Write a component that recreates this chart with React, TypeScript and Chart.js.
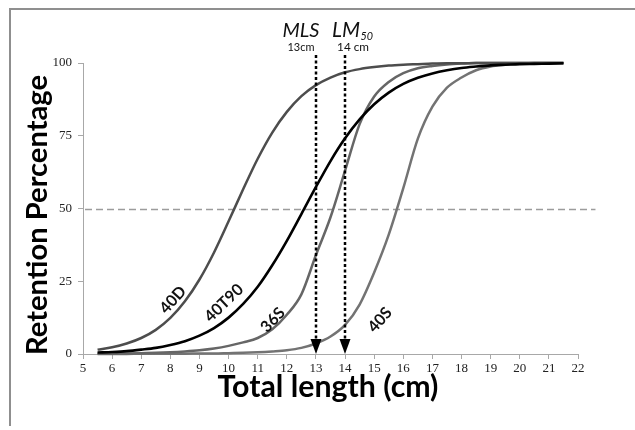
import { useEffect, useRef } from "react";
import { Chart, registerables } from "chart.js";

Chart.register(...registerables);

// Total length (cm) at which retention was read
const lengths = [5.5, 6, 6.5, 7, 7.5, 8, 8.5, 9, 9.5, 10, 10.5, 11, 11.5, 12, 12.5, 13, 13.5, 14, 14.5, 15, 15.5, 16, 16.5, 17, 17.5, 18, 18.5, 19, 19.5, 20, 20.5, 21, 21.5];

// Retention percentage per codend
const ret40D = [1.5, 2.3, 3.6, 5.5, 8.3, 12.4, 18.1, 25.6, 34.9, 45.6, 56.6, 67.1, 76.1, 83.2, 88.6, 92.4, 95.0, 96.8, 97.9, 98.6, 99.1, 99.4, 99.6, 99.8, 99.9, 99.9, 100, 100, 100, 100, 100, 100, 100];
const ret40T90 = [0.5, 0.7, 1.0, 1.5, 2.1, 3.1, 4.4, 6.3, 8.9, 12.5, 17.2, 23.1, 30.5, 38.9, 48.1, 57.4, 66.3, 74.1, 80.6, 85.8, 89.8, 92.8, 94.9, 96.4, 97.5, 98.3, 98.8, 99.2, 99.4, 99.6, 99.7, 99.8, 99.9];
const ret36S = [0.1, 0.1, 0.2, 0.3, 0.4, 0.6, 0.9, 1.3, 1.9, 2.8, 4.0, 5.5, 8.5, 13.5, 20.5, 34, 47, 63, 79, 88.5, 93.5, 96.5, 98.2, 99.0, 99.5, 99.8, 100, 100, 100, 100, 100, 100, 100];
const ret40S = [0, 0, 0, 0.1, 0.1, 0.1, 0.1, 0.2, 0.2, 0.3, 0.4, 0.6, 0.9, 1.3, 2.1, 3.6, 6, 10, 17, 28, 41, 57, 74, 85, 91.5, 95, 97.5, 98.8, 99.4, 99.8, 100, 100, 100];

const seriesNames = ["40T90", "40D", "36S", "40S"];
const seriesValues = [ret40T90, ret40D, ret36S, ret40S];
const seriesColors = ["#000000", "#4d4d4d", "#666666", "#737373"];

const xMin = 5;
const xMax = 22;
const yTicks = [0, 25, 50, 75, 100];

// reference markers
const refRetention = 50;
const refLineEnd = 22.6;
const mlsLength = 13;
const lm50Length = 14;

// curve label anchors (data coordinates) and rotation
const labelNames = ["40D", "40T90", "36S", "40S"];
const labelX = [8.09, 9.84, 11.52, 15.2];
const labelY = [18.6, 17.5, 11.7, 11.7];
const labelAngle = [-48, -44, -47, -48];

const SANS = "Lato, 'Open Sans', 'Liberation Sans', sans-serif";
const SERIF = "'Liberation Serif', 'Times New Roman', serif";

function fitFont(ctx: CanvasRenderingContext2D, text: string, prefix: string, target: number) {
  ctx.font = `${prefix} 20px ${SANS}`;
  const w = ctx.measureText(text).width || 1;
  const size = (20 * target) / w;
  ctx.font = `${prefix} ${size.toFixed(2)}px ${SANS}`;
  return size;
}

const annotationPlugin = {
  id: "annotations",
  beforeDraw(chart: any) {
    const { ctx, width } = chart;
    ctx.save();
    ctx.fillStyle = "#ffffff";
    ctx.fillRect(0, 0, width, chart.height);
    ctx.strokeStyle = "#8f8f8f";
    ctx.lineWidth = 2;
    ctx.beginPath();
    ctx.moveTo(10, 426);
    ctx.lineTo(10, 9);
    ctx.lineTo(width, 9);
    ctx.stroke();
    ctx.restore();
  },
  beforeDatasetsDraw(chart: any) {
    const { ctx, chartArea } = chart;
    const xs = chart.scales.x;
    const ys = chart.scales.y;
    const yy = Math.round(ys.getPixelForValue(refRetention)) + 0.5;
    ctx.save();
    ctx.strokeStyle = "#9c9c9c";
    ctx.lineWidth = 1.6;
    ctx.setLineDash([7, 4]);
    ctx.beginPath();
    ctx.moveTo(chartArea.left + 2, yy);
    ctx.lineTo(xs.getPixelForValue(refLineEnd), yy);
    ctx.stroke();
    ctx.restore();
  },
  afterDatasetsDraw(chart: any) {
    const { ctx } = chart;
    const xs = chart.scales.x;
    const ys = chart.scales.y;
    const bottom = ys.getPixelForValue(0);
    const top = ys.getPixelForValue(100) - 8;
    ctx.save();
    [mlsLength, lm50Length].forEach((v) => {
      const px = Math.round(xs.getPixelForValue(v));
      ctx.strokeStyle = "#000";
      ctx.lineWidth = 2.5;
      ctx.setLineDash([3, 2.5]);
      ctx.beginPath();
      ctx.moveTo(px, top);
      ctx.lineTo(px, bottom - 14);
      ctx.stroke();
      ctx.setLineDash([]);
      ctx.fillStyle = "#000";
      ctx.beginPath();
      ctx.moveTo(px - 5.5, bottom - 15);
      ctx.lineTo(px + 5.5, bottom - 15);
      ctx.lineTo(px, bottom);
      ctx.closePath();
      ctx.fill();
    });

    // marker captions
    const pMls = xs.getPixelForValue(mlsLength);
    const pLm = xs.getPixelForValue(lm50Length);
    ctx.fillStyle = "#111";
    ctx.textBaseline = "alphabetic";
    ctx.textAlign = "center";
    fitFont(ctx, "MLS", "italic", 37);
    ctx.fillText("MLS", pMls - 15, 37);
    fitFont(ctx, "13cm", "", 27);
    ctx.fillText("13cm", pMls - 15, 51);
    fitFont(ctx, "14 cm", "", 32);
    ctx.fillText("14 cm", pLm + 8, 51);
    ctx.textAlign = "left";
    fitFont(ctx, "LM", "italic", 28);
    ctx.fillText("LM", pLm - 13, 37);
    fitFont(ctx, "50", "italic", 12.5);
    ctx.fillText("50", pLm - 13 + 28.5, 40);

    // curve labels
    ctx.textAlign = "center";
    ctx.textBaseline = "middle";
    ctx.font = `bold 16px ${SANS}`;
    labelNames.forEach((name, i) => {
      ctx.save();
      ctx.translate(xs.getPixelForValue(labelX[i]), ys.getPixelForValue(labelY[i]));
      ctx.rotate((labelAngle[i] * Math.PI) / 180);
      ctx.fillText(name, 0, 0);
      ctx.restore();
    });

    // axis titles
    ctx.fillStyle = "#000";
    fitFont(ctx, "Total length (cm)", "bold", 221);
    ctx.fillText("Total length (cm)", 328, 387);
    ctx.save();
    ctx.translate(38, 215);
    ctx.rotate(-Math.PI / 2);
    fitFont(ctx, "Retention Percentage", "bold", 280);
    ctx.fillText("Retention Percentage", 0, 0);
    ctx.restore();
    ctx.restore();
  },
};

export default function App() {
  const ref = useRef<HTMLCanvasElement | null>(null);
  useEffect(() => {
    if (!ref.current) return;
    const chart = new Chart(ref.current, {
      type: "line",
      data: {
        datasets: seriesNames.map((name, i) => ({
          label: name,
          data: lengths.map((x, j) => ({ x, y: seriesValues[i][j] })),
          borderColor: seriesColors[i],
          backgroundColor: seriesColors[i],
          borderWidth: i === 0 ? 2.6 : 2.5,
          pointRadius: 0,
          cubicInterpolationMode: "monotone" as const,
          fill: false,
          clip: false as any,
        })),
      },
      options: {
        animation: false,
        responsive: false,
        maintainAspectRatio: false,
        events: [],
        layout: { padding: { top: 63, right: 57, left: 0, bottom: 0 } },
        plugins: { legend: { display: false }, tooltip: { enabled: false }, title: { display: false } },
        scales: {
          x: {
            type: "linear",
            min: xMin,
            max: xMax,
            afterFit: (s: any) => {
              s.height = 76;
            },
            ticks: {
              stepSize: 1,
              color: "#222",
              padding: 2,
              maxRotation: 0,
              font: { family: SERIF, size: 13 },
            },
            grid: { display: true, drawOnChartArea: false, drawTicks: true, tickLength: 5, color: "#a8a8a8" },
            border: { display: true, color: "#a8a8a8", width: 1 },
          },
          y: {
            type: "linear",
            min: 0,
            max: 100,
            afterFit: (s: any) => {
              s.width = 83;
            },
            afterBuildTicks: (s: any) => {
              s.ticks = yTicks.map((v) => ({ value: v }));
            },
            ticks: {
              color: "#222",
              padding: 6,
              font: { family: SERIF, size: 13 },
            },
            grid: { display: true, drawOnChartArea: false, drawTicks: true, tickLength: 5, color: "#a8a8a8" },
            border: { display: true, color: "#a8a8a8", width: 1 },
          },
        },
      },
      plugins: [annotationPlugin],
    });
    return () => chart.destroy();
  }, []);
  return (
    <div style={{ position: "absolute", left: 0, top: 0, width: 635, height: 430 }}>
      <canvas ref={ref} width={635} height={430} style={{ width: 635, height: 430, display: "block" }} />
    </div>
  );
}
